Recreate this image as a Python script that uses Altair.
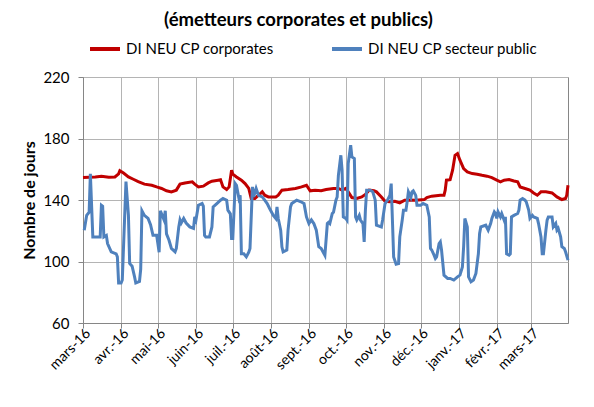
import json
import altair as alt
import pandas as pd

start = pd.Timestamp("2016-03-01")
month_labels = ["janv.", "févr.", "mars", "avr.", "mai", "juin", "juil.", "août",
                "sept.", "oct.", "nov.", "déc."]
series_names = ["DI NEU CP corporates", "DI NEU CP secteur public"]
series_colors = ["#C00000", "#4F81BD"]
y_ticks = [60, 100, 140, 180, 220]
title_text = "(émetteurs corporates et publics)"
y_title = "Nombre de jours"

# day offsets from 1 March 2016 and values
corp_days = [0, 10, 15, 21, 26, 29, 30, 33, 37, 41, 45, 50, 56, 60, 64, 68, 72, 76, 79, 83,
             89, 91, 94, 98, 102, 105, 110, 112, 114, 117, 119, 121, 122, 125, 129, 132, 135,
             137, 140, 143, 146, 148, 151, 157, 159, 162, 167, 173, 178, 182, 185, 189, 194,
             198, 204, 208, 211, 214, 216, 219, 223, 227, 230, 233, 237, 239, 243, 246, 250,
             254, 258, 262, 266, 271, 278, 280, 284, 291, 294, 295, 296, 299, 301, 303, 305,
             307, 310, 313, 317, 321, 325, 329, 333, 337, 340, 343, 347, 351, 354, 356, 360,
             364, 367, 370, 373, 377, 382, 386, 390, 393, 394, 395]
corp_values = [154.6, 155, 155.5, 154.8, 155, 157, 159, 157.5, 155, 153.5, 152, 150.3, 149.6,
               148.5, 147.5, 146, 145.3, 146.4, 150.3, 151.1, 151.8, 150.3, 148.5, 149, 151.1,
               152.2, 152.9, 153.2, 148.5, 146.8, 148.5, 159.4, 156.8, 155, 152.9, 150.7, 147.5,
               141, 141, 143.1, 145.3, 143.1, 142, 142, 143.1, 146.4, 146.8, 147.5, 148.5, 149.6,
               146, 146.4, 146, 146.8, 147.5, 147.5, 146.4, 147.5, 145.3, 141.6, 141, 142, 143.6,
               146.4, 146, 145.3, 142, 139.2, 138.8, 139.2, 138.1, 139.9, 140, 139.9, 140.3,
               141.6, 142.5, 143.1, 143.1, 146.4, 152.9, 153.2, 159.4, 169.1, 170.2, 165.9,
               160.4, 158.3, 157.2, 156.8, 156.1, 155.5, 154.6, 152.9, 151.8, 152.9, 153.3,
               152.4, 151.8, 148.5, 147.5, 146.4, 144.6, 143.1, 145.3, 145.3, 144.6, 142, 140.3,
               141, 143.1, 149.6]

pub_days = [1, 3, 5, 6, 8, 14, 15, 16, 17, 19, 20, 23, 27, 28, 29, 31, 32, 35, 37, 38, 40, 42,
            43, 46, 47, 48, 50, 53, 55, 57, 60, 62, 63, 66, 67, 68, 70, 72, 75, 76, 78, 79, 80,
            82, 84, 87, 90, 91, 92, 94, 97, 98, 99, 100, 103, 105, 106, 109, 112, 114, 117, 118,
            120, 121, 122, 124, 125, 127, 128, 129, 131, 133, 135, 136, 138, 139, 141, 143, 146,
            148, 150, 152, 155, 157, 158, 159, 161, 162, 163, 166, 167, 169, 170, 174, 177, 180,
            181, 182, 184, 186, 188, 190, 192, 194, 197, 199, 200, 201, 203, 204, 206, 207, 208,
            210, 211, 212, 214, 215, 216, 218, 219, 221, 222, 223, 225, 226, 228, 229, 230, 231,
            234, 236, 238, 239, 243, 244, 246, 248, 250, 251, 252, 253, 255, 257, 258, 260, 261,
            263, 264, 265, 267, 268, 269, 271, 272, 275, 277, 280, 282, 283, 284, 286, 287, 288,
            290, 291, 292, 294, 297, 299, 302, 305, 307, 309, 310, 311, 313, 314, 316, 318, 320,
            322, 323, 324, 328, 330, 332, 333, 335, 336, 337, 338, 340, 341, 343, 344, 345, 347,
            348, 349, 351, 354, 355, 356, 358, 360, 361, 363, 364, 366, 367, 370, 371, 373, 374,
            375, 377, 378, 379, 382, 383, 385, 386, 387, 389, 390, 392, 393, 395]
pub_values = [120.4, 130, 132, 157, 116, 116, 136.6, 136, 116, 117, 111.7, 106.3, 105, 103, 86,
              86, 88, 152, 130, 98.7, 97, 90, 86, 87, 95, 133, 130, 128, 124, 117, 117, 106, 133,
              127, 133, 118, 114, 108.5, 106.3, 108.5, 122.5, 127, 125, 128, 125, 122.5, 121.5,
              129, 127, 136.6, 137.7, 136, 117, 116, 116, 122.5, 135.5, 137.7, 139.9, 141, 139.9,
              133.4, 131, 115, 115, 150.7, 149.6, 141, 143, 105, 105, 103, 106, 108.5, 148.5,
              142, 147.5, 143, 142, 139.9, 137.7, 134.5, 130, 128, 135.5, 128, 120.4, 109.6,
              106.3, 107.5, 120.4, 135.5, 137.7, 139.9, 139, 137.7, 133.4, 129, 124.7, 127,
              124.7, 120.4, 109.6, 108.5, 104, 124.7, 125.5, 124.7, 131.2, 132, 139.9, 142, 156,
              169.1, 159.4, 129, 128, 126.9, 163.7, 175.6, 168, 167, 129, 127, 130, 127, 124.7,
              112.8, 133.4, 146.4, 146.4, 145.3, 139.9, 123.6, 122.5, 127, 137.7, 139.9, 143.1,
              150.7, 127, 103, 98.3, 98.7, 116, 127, 133.4, 133.4, 138.8, 145.3, 141.7, 145.3,
              146, 143, 136.6, 136.6, 137.7, 136.6, 129, 108.5, 107.5, 104, 102, 103, 111.7,
              112.8, 107.5, 91.1, 89, 89, 87.9, 90, 91.1, 96.5, 109.6, 128, 122.5, 90, 86.8, 87.9,
              92.2, 105, 118.2, 122.5, 123.6, 120.4, 124.7, 128, 132.3, 131.2, 128, 132.3, 129,
              131.2, 126.9, 129, 105, 104.1, 105, 129, 130, 131.2, 133.4, 139.9, 141, 139.9,
              138.8, 133.4, 128, 130, 129, 128, 124.7, 116, 105, 105, 120.4, 126.9, 129, 129,
              122.5, 124.7, 120.4, 121.5, 116, 109.6, 108.5, 106.3, 100.9]


def frame(days, values, name):
    return pd.DataFrame({
        "date": [(start + pd.Timedelta(days=d)).strftime("%Y-%m-%d") for d in days],
        "value": values,
        "serie": name,
    })


corp_df = frame(corp_days, corp_values, series_names[0])
pub_df = frame(pub_days, pub_values, series_names[1])

label_expr = (json.dumps(month_labels, ensure_ascii=False)
              + "[utcmonth(datum.value)] + '-' + utcFormat(datum.value, '%y')")

x_enc = alt.X(
    "date:T",
    scale=alt.Scale(type="utc",
                    domain=[alt.DateTime(year=2016, month=3, date=1, utc=True),
                            alt.DateTime(year=2017, month=3, date=31, utc=True)]),
    axis=alt.Axis(title=None, tickCount={"interval": "month", "step": 1},
                  labelExpr=label_expr, labelAngle=-45, labelAlign="right",
                  labelBaseline="middle", labelFontSize=14, labelPadding=3,
                  labelOffset=5, tickSize=5, labelOverlap=False, labelFlush=False),
)
y_enc = alt.Y(
    "value:Q",
    scale=alt.Scale(domain=[60, 220], nice=False, zero=False),
    axis=alt.Axis(title=y_title, values=y_ticks, titleFontSize=16, titleFontWeight="bold",
                  titlePadding=5, labelFontSize=15, labelPadding=9, tickSize=5),
)
color_enc = alt.Color(
    "serie:N",
    scale=alt.Scale(domain=series_names, range=series_colors),
    legend=alt.Legend(title=None, orient="none", direction="horizontal",
                      legendX=5, legendY=-45, symbolType="stroke", symbolSize=900,
                      symbolStrokeWidth=4, labelFontSize=15, columnPadding=50,
                      labelOffset=4, labelLimit=400),
)

base = alt.Chart().mark_line(strokeWidth=3, interpolate="linear").encode(
    x=x_enc, y=y_enc, color=color_enc)

chart = alt.layer(
    base.properties(data=corp_df),
    base.properties(data=pub_df),
).properties(
    width=485, height=246,
    padding={"left": 75, "top": 69, "right": 18, "bottom": 70},
    autosize=alt.AutoSizeParams(type="none"),
    title=alt.TitleParams(title_text, font="Lato", fontSize=18.5, fontWeight="bold",
                          color="black", anchor="middle", dx=-27, offset=3),
).configure(
    font="Lato",
).configure_axis(
    labelFont="Lato", titleFont="Lato", labelColor="#000000", titleColor="#000000",
    domainColor="#868686", tickColor="#868686", gridColor="#B4B4B4", grid=True,
).configure_legend(
    labelFont="Lato", labelColor="#000000",
).configure_view(
    stroke="#868686", strokeWidth=1,
)

chart.save("out.html", embed_options={"renderer": "svg", "actions": False})
